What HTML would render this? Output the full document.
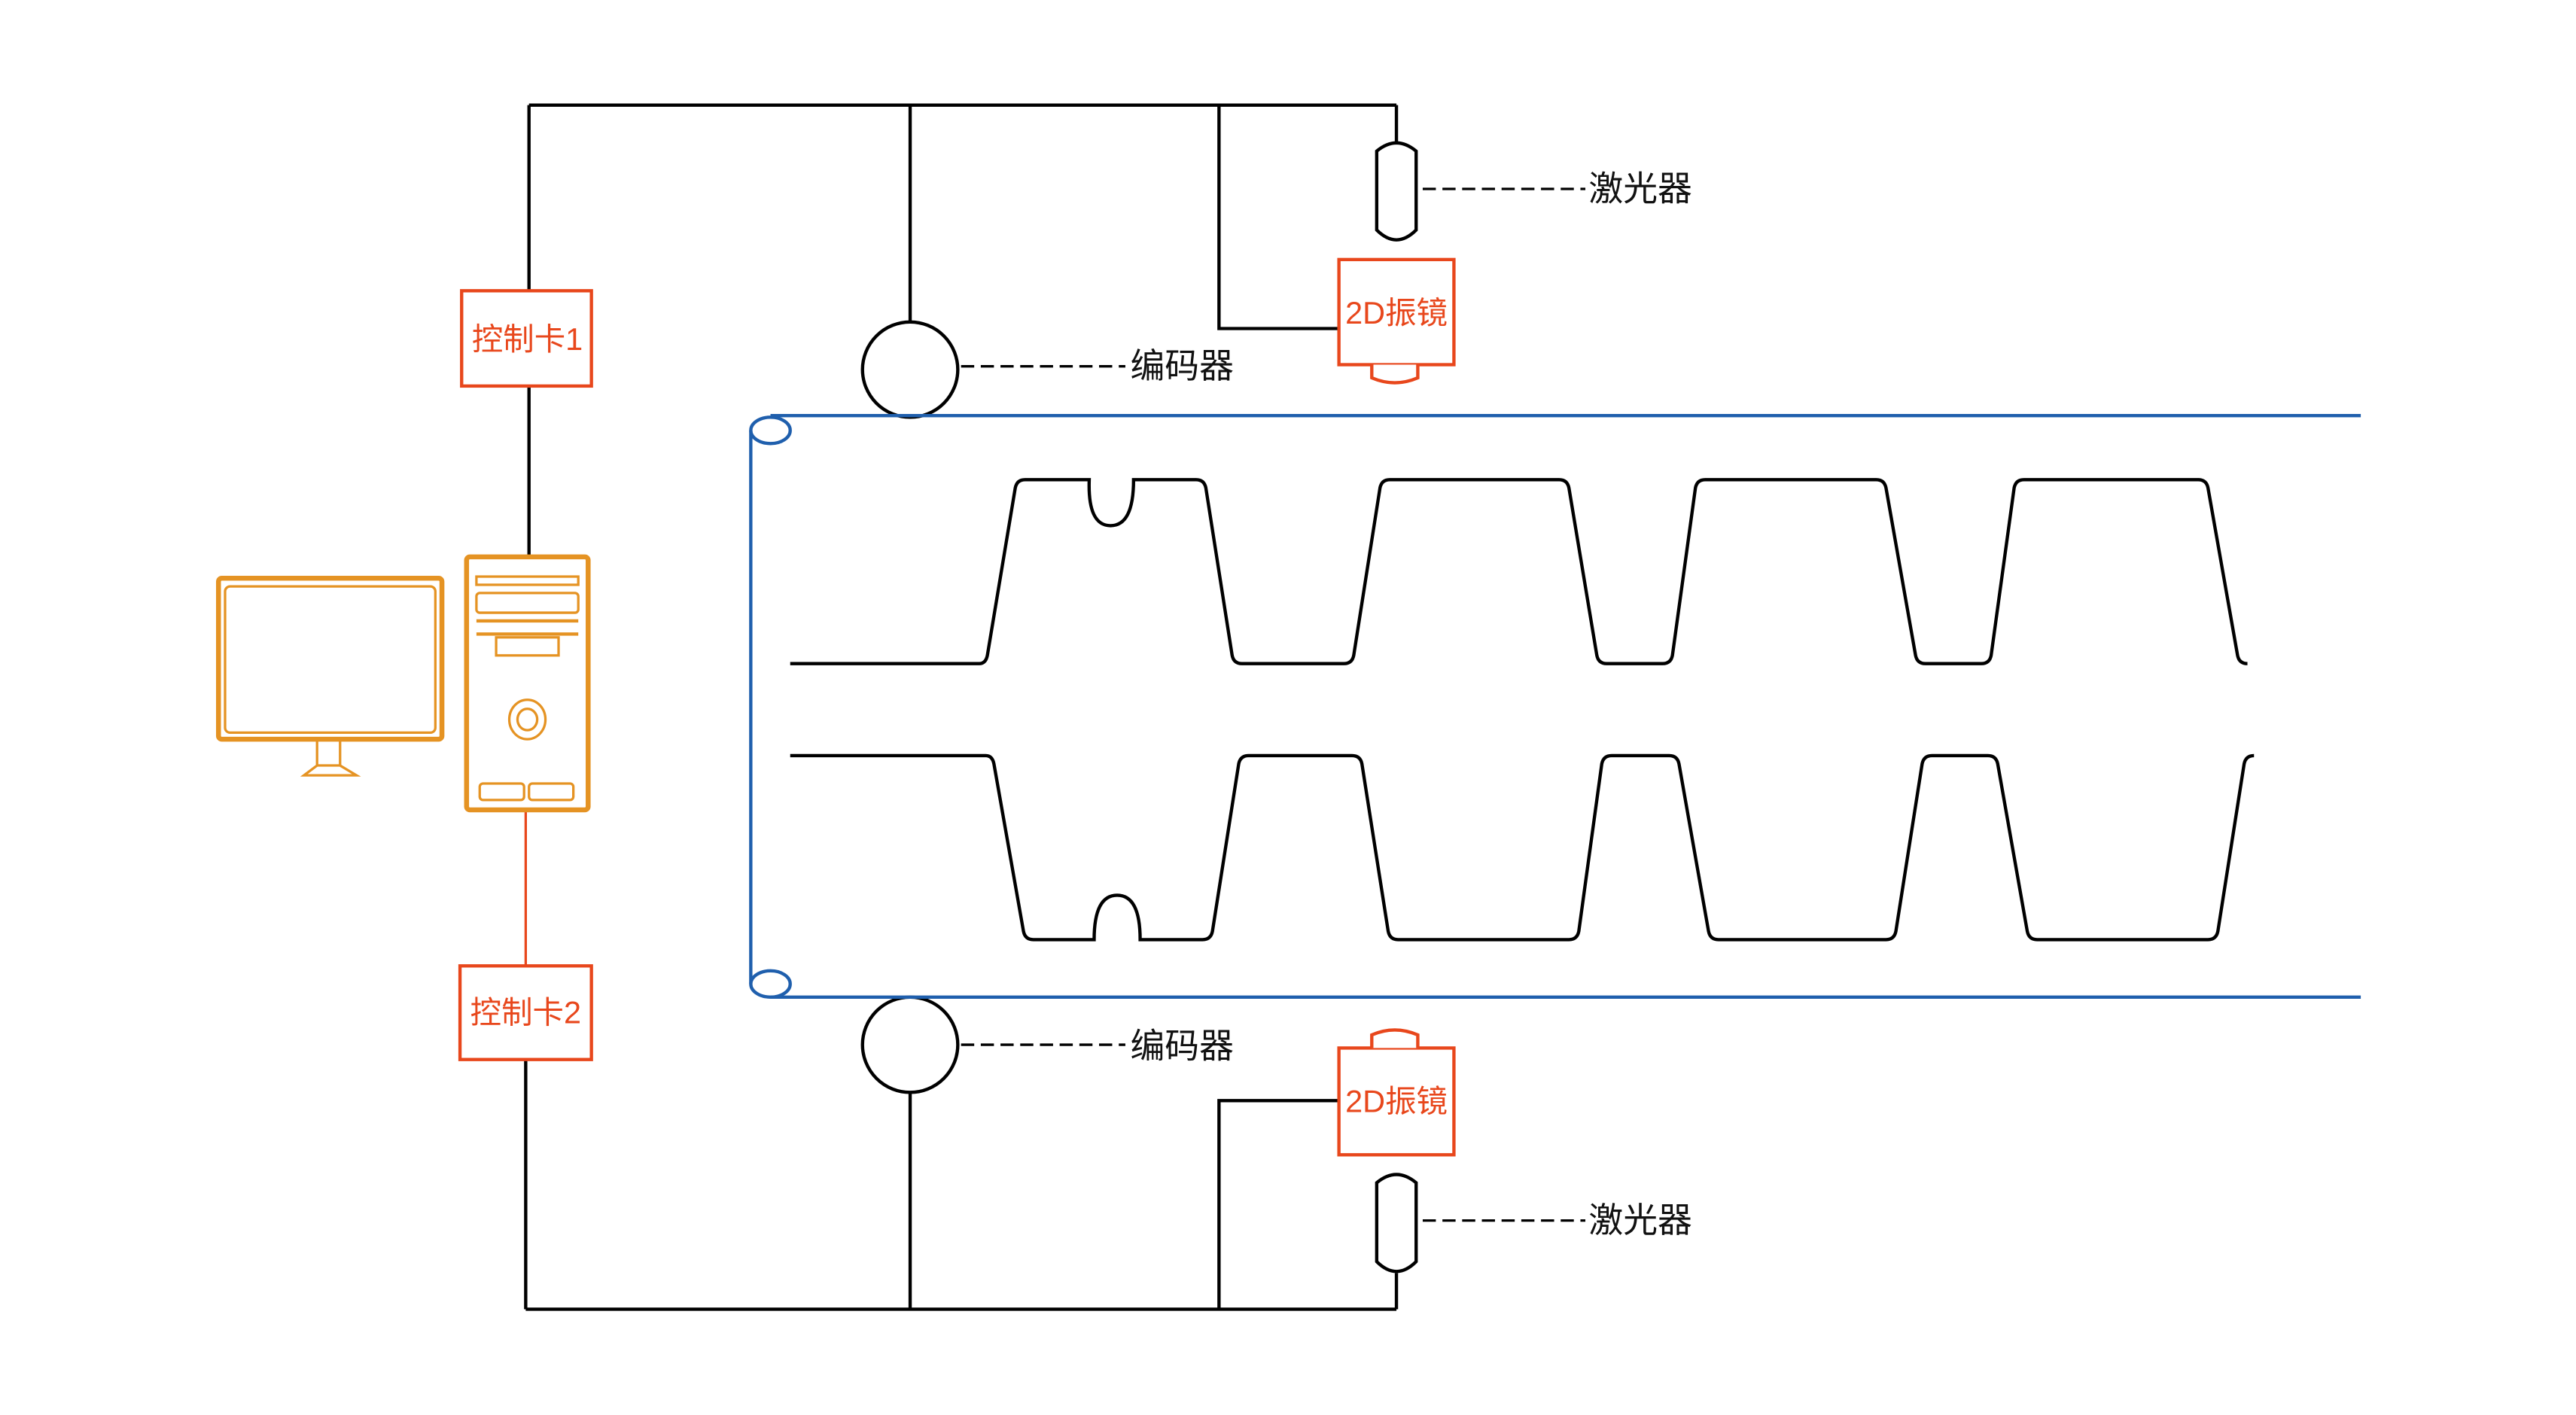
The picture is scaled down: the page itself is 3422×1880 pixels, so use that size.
<!DOCTYPE html>
<html><head><meta charset="utf-8"><style>
html,body{margin:0;padding:0;background:#fff;width:3422px;height:1880px;overflow:hidden}
svg{display:block}
text{font-family:"Liberation Sans","Noto Sans CJK SC",sans-serif}
</style></head><body>
<svg width="3422" height="1880" viewBox="0 0 1568 861.4" preserveAspectRatio="none" xmlns="http://www.w3.org/2000/svg">
<g fill="none" stroke="#000" stroke-width="2">
<path d="M322,64 H850 M322,64 V177 M322,235 V338 M554,64 V197 M742,64 V200 H815 M850,64 V87"/>
<circle cx="554" cy="225" r="29"/>
<path d="M838,92 Q850,82 862,92 V140 Q850,152 838,140 Z"/>
<path d="M320,797 H850 M320,645 V797 M554,665 V797 M742,797 V670 H815 M850,797 V775"/>
<circle cx="554" cy="636" r="29"/>
<path d="M838,720 Q850,710 862,720 V768 Q850,780 838,768 Z"/>
</g>
<g stroke="#000" stroke-width="1.5" stroke-dasharray="8,4">
<path d="M866,115 H965 M585,223 H685 M866,743 H965 M585,636 H685"/>
</g>
<g font-size="21" fill="#111">
<text x="967" y="122">激光器</text>
<text x="688" y="230">编码器</text>
<text x="967" y="750">激光器</text>
<text x="688" y="644">编码器</text>
</g>
<g fill="none" stroke="#1F5FAD" stroke-width="2">
<path d="M469,253 H1437 M469,607 H1437 M457,262 V599"/>
<ellipse cx="469" cy="262" rx="12" ry="8"/>
<ellipse cx="469" cy="599" rx="12" ry="8"/>
</g>
<g fill="none" stroke="#000" stroke-width="2">
<path d="M481,404 H596 Q600,404 601,399 L618,297 Q619,292 624,292 H663 Q662,320 676,320 Q690,320 690,292 H728 Q733,292 734,297 L750,399 Q751,404 756,404 H818 Q823,404 824,399 L840,297 Q841,292 846,292 H949 Q954,292 955,297 L972,399 Q973,404 978,404 H1012 Q1017,404 1018,399 L1032,297 Q1033,292 1038,292 H1142 Q1147,292 1148,297 L1166,399 Q1167,404 1172,404 H1206 Q1211,404 1212,399 L1226,297 Q1227,292 1232,292 H1338 Q1343,292 1344,297 L1362,399 Q1363,404 1368,404"/>
<path d="M481,460 H600 Q604,460 605,465 L623,567 Q624,572 629,572 H666 Q666,545 680,545 Q694,545 694,572 H732 Q737,572 738,567 L754,465 Q755,460 760,460 H823 Q828,460 829,465 L845,567 Q846,572 851,572 H955 Q960,572 961,567 L975,465 Q976,460 981,460 H1016 Q1021,460 1022,465 L1040,567 Q1041,572 1046,572 H1148 Q1153,572 1154,567 L1170,465 Q1171,460 1176,460 H1210 Q1215,460 1216,465 L1234,567 Q1235,572 1240,572 H1344 Q1349,572 1350,567 L1366,465 Q1367,460 1372,460"/>
</g>
<g fill="#fff" stroke="#E8471C" stroke-width="2">
<rect x="281" y="177" width="79" height="58"/>
<rect x="280" y="588" width="80" height="57"/>
<rect x="815" y="158" width="70" height="64"/>
<path d="M835,222 V230 Q849,236 863,230 V222"/>
<rect x="815" y="638" width="70" height="65"/>
<path d="M835,638 V630 Q849,624 863,630 V638"/>
</g>
<path d="M320,494 V588" stroke="#E8471C" stroke-width="1.5"/>
<g font-size="19" fill="#E8471C" text-anchor="middle">
<text x="321" y="213">控制卡1</text>
<text x="320" y="623">控制卡2</text>
<text x="850" y="197">2D振镜</text>
<text x="850" y="677">2D振镜</text>
</g>
<g fill="none" stroke="#E59323">
<rect x="133" y="352" width="136" height="98" rx="2" stroke-width="3"/>
<rect x="137" y="357" width="128" height="89" rx="3" stroke-width="1.5"/>
<path d="M193,451 V466 H207 V451 M193,466 L185,472 H217 L207,466" stroke-width="1.5"/>
<rect x="284" y="339" width="74" height="154" rx="2" stroke-width="3"/>
<rect x="290" y="351" width="62" height="5" stroke-width="1.5"/>
<rect x="290" y="361" width="62" height="12" rx="2" stroke-width="1.5"/>
<path d="M290,378 H352 M290,386 H352" stroke-width="2"/>
<rect x="302" y="388" width="38" height="11" stroke-width="1.5"/>
<ellipse cx="321" cy="438" rx="11" ry="12" stroke-width="1.5"/>
<ellipse cx="321" cy="438" rx="6" ry="6.5" stroke-width="1.5"/>
<rect x="292" y="477" width="27" height="10" rx="2" stroke-width="1.5"/>
<rect x="322" y="477" width="27" height="10" rx="2" stroke-width="1.5"/>
</g>
</svg>
</body></html>
